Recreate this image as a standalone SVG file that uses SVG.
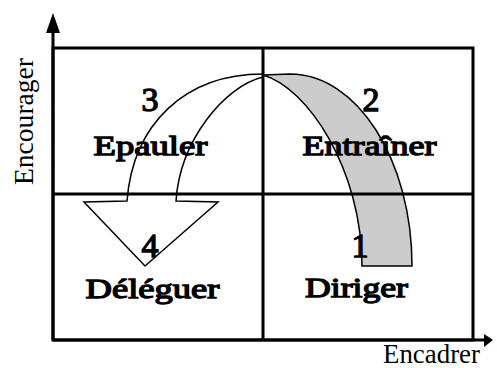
<svg xmlns="http://www.w3.org/2000/svg" width="497" height="368" viewBox="0 0 497 368">
<style>
.ln{stroke:#000;stroke-width:3;fill:none}
.arc{stroke:#000;stroke-width:1.5;stroke-linejoin:miter}
.lbl{font-family:"Liberation Serif","DejaVu Serif",serif;font-weight:normal;fill:#000;stroke:#000;stroke-width:1.3;text-anchor:middle}
.num{font-size:34px}
.word{font-size:28px}
.ax{font-family:"Liberation Serif","DejaVu Serif",serif;font-size:27px;fill:#000}
</style>
<rect width="497" height="368" fill="#fff"/>
<g id="shapes">
<path id="band" class="arc" fill="#cccccc" d="M263,75 L290,74 C357,74 412,160 412,266 L362,266 C362,170 308,88 263,75 Z"/>
<path id="arrow" class="arc" fill="#fff" d="M263,74 C185,74 133,124 127,201 L84,202 L145,266 L218,202 L176,201 C180,140 225,86 263,77"/>
</g>
<g id="grid">
<rect class="ln" x="53" y="48" width="420" height="292"/>
<line class="ln" x1="263" y1="48" x2="263" y2="340"/>
<line class="ln" x1="53" y1="194" x2="473" y2="194"/>
</g>
<g id="axes">
<line class="ln" x1="53" y1="340" x2="53" y2="28"/>
<polygon points="53,13 46,33 60,33" fill="#000"/>
<line class="ln" x1="53" y1="340" x2="486" y2="340"/>
<polygon points="493,340 484,334 484,347" fill="#000"/>
<text class="ax" x="0" y="0" transform="translate(33,185) rotate(-90)" textLength="127" lengthAdjust="spacingAndGlyphs">Encourager</text>
<text class="ax" x="383" y="363" textLength="97" lengthAdjust="spacingAndGlyphs">Encadrer</text>
</g>
<g id="q3"><text class="lbl num" x="150" y="111">3</text><text class="lbl word" x="150.5" y="155" textLength="114" lengthAdjust="spacingAndGlyphs">Epauler</text></g>
<g id="q2"><text class="lbl num" x="371" y="111">2</text><text class="lbl word" x="369.5" y="155" textLength="134" lengthAdjust="spacingAndGlyphs">Entraîner</text></g>
<g id="q4"><text class="lbl num" x="150" y="257">4</text><text class="lbl word" x="152.5" y="298" textLength="134" lengthAdjust="spacingAndGlyphs">Déléguer</text></g>
<g id="q1"><text class="lbl num" x="360" y="257">1</text><text class="lbl word" x="356.5" y="297" textLength="103" lengthAdjust="spacingAndGlyphs">Diriger</text></g>
</svg>
